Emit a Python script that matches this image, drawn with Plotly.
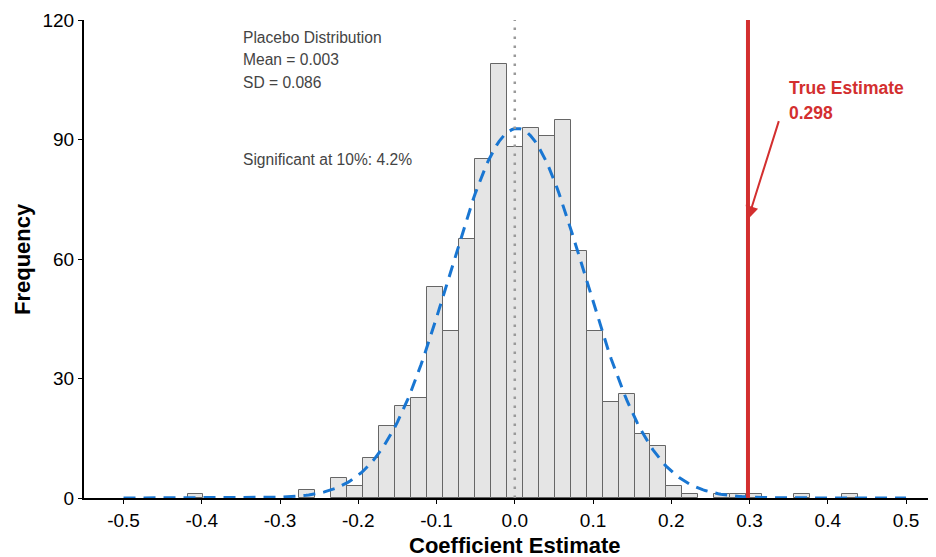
import numpy as np
import plotly.graph_objects as go

# ---- data ----
bin_centers = [-0.408, -0.2652, -0.2244, -0.204, -0.1836, -0.1632, -0.1428, -0.1224,
               -0.102, -0.0816, -0.0612, -0.0408, -0.0204, 0.0, 0.0204, 0.0408, 0.0612,
               0.0816, 0.102, 0.1224, 0.1428, 0.1632, 0.1836, 0.204, 0.2244,
               0.2652, 0.2856, 0.306, 0.3672, 0.4284]
counts = [1, 2, 5, 3, 10, 18, 23, 25,
          53, 42, 65, 85, 109, 88, 93, 91, 95,
          62, 42, 24, 26, 16, 13, 3, 1,
          1, 1, 1, 1, 1]
bin_width = 0.0204
placebo_mean = 0.003
placebo_sd = 0.086
n_sims = 1000
true_estimate = 0.298
x_tick_vals = [-0.5, -0.4, -0.3, -0.2, -0.1, 0.0, 0.1, 0.2, 0.3, 0.4, 0.5]
x_tick_text = ["-0.5", "-0.4", "-0.3", "-0.2", "-0.1", "0.0", "0.1", "0.2", "0.3", "0.4", "0.5"]
y_tick_vals = [0, 30, 60, 90, 120]

# normal curve implied by the stated mean / SD
curve_x = np.linspace(-0.5, 0.5, 301)
curve_y = n_sims * 0.02 * np.exp(-0.5 * ((curve_x - placebo_mean) / placebo_sd) ** 2) / (placebo_sd * np.sqrt(2 * np.pi))

FONT = "Liberation Sans, Arial, sans-serif"

fig = go.Figure()
fig.add_trace(go.Bar(
    x=bin_centers, y=counts, width=bin_width,
    marker=dict(color="#E5E5E5", line=dict(color="#666666", width=1)),
    hoverinfo="x+y", showlegend=False,
))
fig.add_trace(go.Scatter(
    x=curve_x, y=curve_y, mode="lines",
    line=dict(color="#1976D2", width=3, dash="12px,8px"),
    showlegend=False,
))

fig.add_vline(x=0.0, line=dict(color="#999999", width=2.5, dash="2.5px,6.5px"), layer="above")
fig.add_vline(x=true_estimate, line=dict(color="#D32F2F", width=4), layer="above")

fig.add_annotation(x=true_estimate, y=70, ax=0.338, ay=95, xref="x", yref="y",
                   axref="x", ayref="y", text="", showarrow=True,
                   arrowhead=2, arrowsize=1.3, arrowwidth=2, arrowcolor="#D32F2F", standoff=0)

red_txt = dict(family=FONT, size=17.5, color="#D32F2F")
fig.add_annotation(x=0.348, y=103, xref="x", yref="y", text="<b>True Estimate</b>",
                   showarrow=False, xanchor="left", yanchor="middle", font=red_txt)
fig.add_annotation(x=0.348, y=96.7, xref="x", yref="y", text="<b>0.298</b>",
                   showarrow=False, xanchor="left", yanchor="middle", font=red_txt)

grey_txt = dict(family=FONT, size=15.6, color="#444444")
for yy, txt in [(115.5, "Placebo Distribution"), (110, "Mean = 0.003"),
                (104.2, "SD = 0.086"), (85.1, "Significant at 10%: 4.2%")]:
    fig.add_annotation(x=-0.35, y=yy, xref="x", yref="y", text=txt, showarrow=False,
                       xanchor="left", yanchor="middle", font=grey_txt)

# axis titles
fig.add_annotation(x=0.0, y=0, xref="x", yref="paper", yshift=-47,
                   text="<b>Coefficient Estimate</b>", showarrow=False,
                   xanchor="center", yanchor="middle",
                   font=dict(family=FONT, size=22, color="black"))
fig.add_annotation(x=0, y=60, xref="paper", yref="y", xshift=-62,
                   text="<b>Frequency</b>", showarrow=False, textangle=-90,
                   xanchor="center", yanchor="middle",
                   font=dict(family=FONT, size=22, color="black"))

fig.update_layout(
    width=928, height=549,
    margin=dict(l=76, r=1, t=12, b=59),
    plot_bgcolor="white", paper_bgcolor="white",
    bargap=0,
    font=dict(family=FONT, color="black"),
    xaxis=dict(
        range=[-0.5505, 0.537], tickvals=x_tick_vals, ticktext=x_tick_text,
        showgrid=False, zeroline=False, showline=True, linecolor="black", linewidth=2,
        ticks="outside", ticklen=4, tickcolor="black", tickwidth=1, automargin=False,
        tickfont=dict(size=19, color="black", family=FONT),
    ),
    yaxis=dict(
        range=[0, 120], tickvals=y_tick_vals,
        showgrid=False, zeroline=False, showline=True, linecolor="black", linewidth=2,
        ticks="outside", ticklen=4, tickcolor="black", tickwidth=1, automargin=False,
        tickfont=dict(size=19, color="black", family=FONT),
    ),
)

fig.write_html("out.html")
